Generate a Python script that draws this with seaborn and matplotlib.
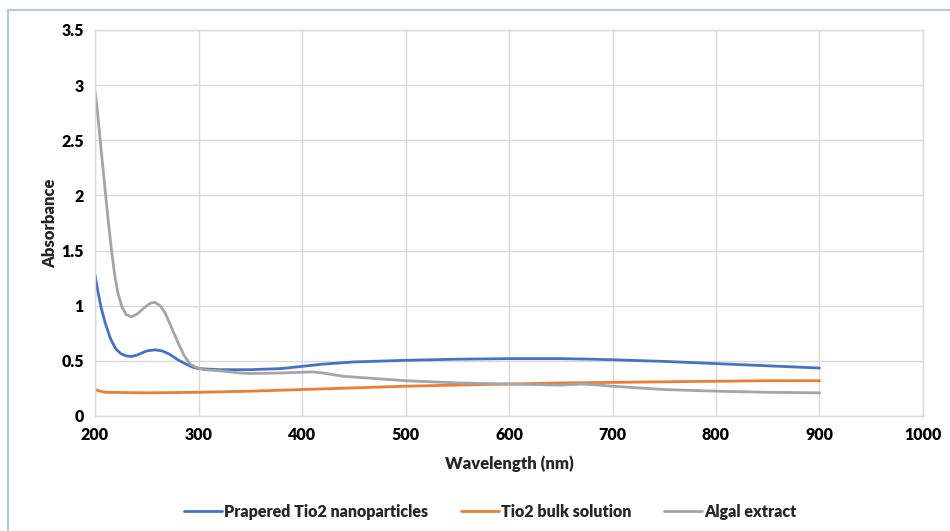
import numpy as np
import pandas as pd
import matplotlib
matplotlib.use("Agg")
import matplotlib.pyplot as plt
import seaborn as sns
from matplotlib.lines import Line2D

# ---- data ----
wl_blue = [200, 203, 206, 210, 215, 220, 225, 230, 235, 240, 245, 250, 258, 265, 272,
           280, 288, 295, 300, 320, 350, 380, 400, 420, 450, 500, 550, 600, 650, 680,
           700, 750, 800, 850, 900]
abs_blue = [1.28, 1.12, 0.98, 0.84, 0.70, 0.61, 0.565, 0.545, 0.54, 0.55, 0.57, 0.59, 0.60,
            0.59, 0.56, 0.51, 0.47, 0.44, 0.43, 0.42, 0.42, 0.43, 0.45, 0.47, 0.49, 0.505,
            0.515, 0.52, 0.52, 0.515, 0.51, 0.495, 0.475, 0.455, 0.435]

wl_orange = [200, 205, 210, 250, 300, 350, 400, 450, 500, 550, 600, 650, 700, 750, 800,
             850, 900]
abs_orange = [0.24, 0.225, 0.215, 0.21, 0.215, 0.225, 0.24, 0.255, 0.27, 0.28, 0.29, 0.30,
              0.305, 0.31, 0.315, 0.32, 0.32]

wl_gray = [200, 201, 203, 205, 208, 210, 213, 216, 219, 222, 226, 230, 235, 240, 245, 250,
           254, 258, 263, 268, 274, 280, 286, 292, 298, 305, 320, 340, 350, 380, 410, 420,
           440, 470, 500, 550, 600, 650, 670, 680, 700, 750, 800, 850, 900]
abs_gray = [2.94, 2.88, 2.70, 2.50, 2.22, 2.03, 1.75, 1.50, 1.28, 1.12, 0.99, 0.92, 0.90,
            0.92, 0.96, 1.00, 1.025, 1.03, 1.00, 0.93, 0.80, 0.67, 0.55, 0.47, 0.44, 0.42,
            0.41, 0.39, 0.385, 0.39, 0.40, 0.39, 0.36, 0.34, 0.32, 0.30, 0.29, 0.28, 0.29,
            0.285, 0.27, 0.24, 0.225, 0.215, 0.21]

series_names = ["Prapered Tio2 nanoparticles", "Tio2 bulk solution", "Algal extract"]
colors = ["#4472C4", "#ED7D31", "#A5A5A5"]

x_ticks = [200, 300, 400, 500, 600, 700, 800, 900, 1000]
y_ticks = [0, 0.5, 1, 1.5, 2, 2.5, 3, 3.5]
y_tick_labels = ["0", "0.5", "1", "1.5", "2", "2.5", "3", "3.5"]

df = pd.concat([
    pd.DataFrame({"wl": wl_blue, "abs": abs_blue, "series": series_names[0]}),
    pd.DataFrame({"wl": wl_orange, "abs": abs_orange, "series": series_names[1]}),
    pd.DataFrame({"wl": wl_gray, "abs": abs_gray, "series": series_names[2]}),
])

sns.set_theme(style="white")
plt.rcParams['font.family'] = ['Lato', 'DejaVu Sans']
W = "heavy"

fig = plt.figure(figsize=(9.5, 5.31), dpi=100)
ax = fig.add_axes([95/950, 1-416/531, (923-95)/950, (416-30)/531])

sns.lineplot(data=df, x="wl", y="abs", hue="series", hue_order=series_names,
             palette=colors, linewidth=2.0, ax=ax, legend=False, sort=False,
             estimator=None)

ax.set_xlim(200, 1000)
ax.set_ylim(0, 3.5)
ax.set_xticks(x_ticks)
ax.set_xticklabels([str(t) for t in x_ticks], fontweight=W, fontsize=11.5)
ax.set_yticks(y_ticks)
ax.set_yticklabels(y_tick_labels, fontweight=W, fontsize=11.5)
ax.tick_params(axis="both", length=0, pad=8, colors="black")
ax.grid(True, color="#D9D9D9", linewidth=1.0)
ax.set_axisbelow(True)
for s in ax.spines.values():
    s.set_color("#D9D9D9")
    s.set_linewidth(1.0)

ax.set_xlabel("Wavelength (nm)", fontweight=W, fontsize=12, labelpad=9)
ax.set_ylabel("Absorbance", fontweight=W, fontsize=12, labelpad=2)

handles = [Line2D([0], [0], color=c, linewidth=2.0) for c in colors]
fig.legend(handles, series_names, loc="center", bbox_to_anchor=(0.516, 1-512/531),
           ncol=3, frameon=False, prop={"weight": W, "size": 11.5},
           handlelength=2.4, handletextpad=0.15, columnspacing=2.0)

# chart area border (top and left)
fig.add_artist(Line2D([8/950, 8/950], [0, 1-10/531], transform=fig.transFigure,
                      color="#B4C7E7", linewidth=1.5))
fig.add_artist(Line2D([8/950, 1], [1-10/531, 1-10/531], transform=fig.transFigure,
                      color="#B4C7E7", linewidth=1.5))

fig.savefig("out.png", dpi=100)
